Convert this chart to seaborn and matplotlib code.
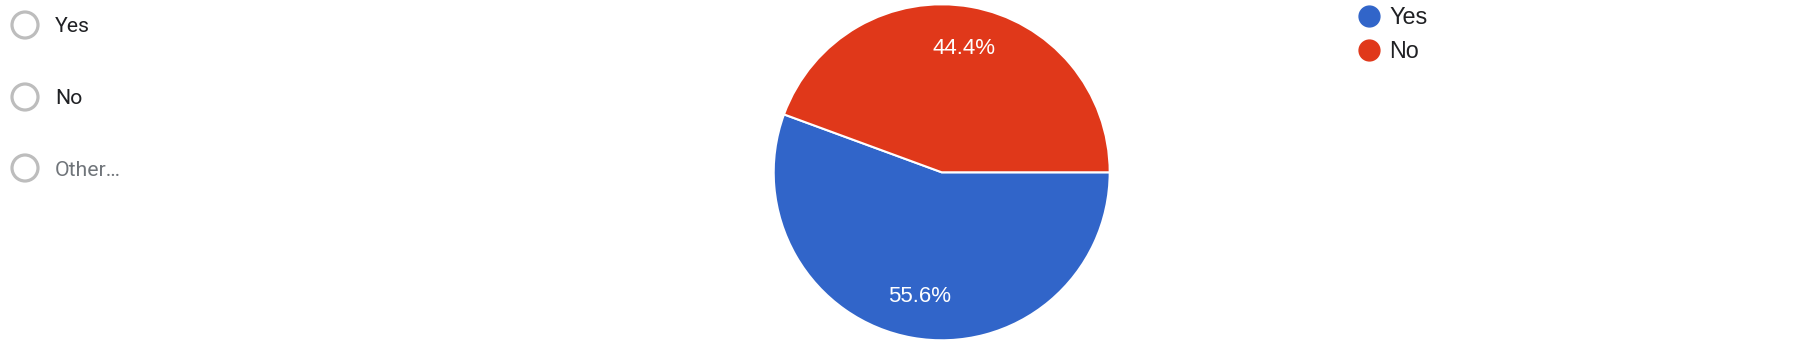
import matplotlib
matplotlib.use("Agg")
import matplotlib.pyplot as plt
from matplotlib.patches import Circle
from matplotlib.lines import Line2D
import seaborn as sns

# ---- data ----
categories = ["Yes", "No"]
shares = [55.6, 44.4]
options = ["Yes", "No", "Other…"]
option_colors = ["#202124", "#202124", "#70757a"]
slice_colors = ["#3165C9", "#E0381A"]

sns.set_theme(style="white")
plt.rcParams["font.family"] = ["Roboto", "DejaVu Sans"]

W, H = 1802, 343
fig = plt.figure(figsize=(W / 100, H / 100), dpi=100)
fig.patch.set_facecolor("white")

# overlay axes in pixel coordinates (y downward)
ov = fig.add_axes([0, 0, 1, 1])
ov.set_xlim(0, W)
ov.set_ylim(H, 0)
ov.axis("off")

# radio options on the left
opt_y = [25, 97, 168]
for label, col, y in zip(options, option_colors, opt_y):
    ov.add_patch(Circle((25, y), 13, fill=False, edgecolor="#BDBDBD", linewidth=2.3))
    ov.text(55, y, label, color=col, fontsize=15.3, va="center_baseline", ha="left")

# pie
cx, cy, r = 941.7, 172.3, 168
pax = fig.add_axes([(cx - r) / W, (H - cy - r) / H, 2 * r / W, 2 * r / H])
wedges, texts, autotexts = pax.pie(
    shares,
    colors=slice_colors,
    startangle=0,
    counterclock=False,
    autopct="%.1f%%",
    pctdistance=0.75,
    wedgeprops=dict(edgecolor="white", linewidth=1.5),
    textprops=dict(color="white", fontsize=16, family=["Liberation Sans", "DejaVu Sans"]),
)
pax.set_xlim(-1, 1)
pax.set_ylim(-1, 1)
pax.set_aspect("equal")
pax.axis("off")

# legend
handles = [Line2D([0], [0], marker="o", linestyle="none", markersize=15,
                  markerfacecolor=c, markeredgecolor=c) for c in slice_colors]
fig.legend(handles, categories, loc="upper left",
           bbox_to_anchor=(1347.5 / W, 1 - (-3.5) / H),
           frameon=False, handletextpad=0.4,
           labelspacing=0.48, borderaxespad=0, handlelength=1.0,
           labelcolor="#202124",
           prop=dict(family=["Liberation Sans", "DejaVu Sans"], size=16.8))

fig.savefig("out.png", dpi=100, facecolor="white")
